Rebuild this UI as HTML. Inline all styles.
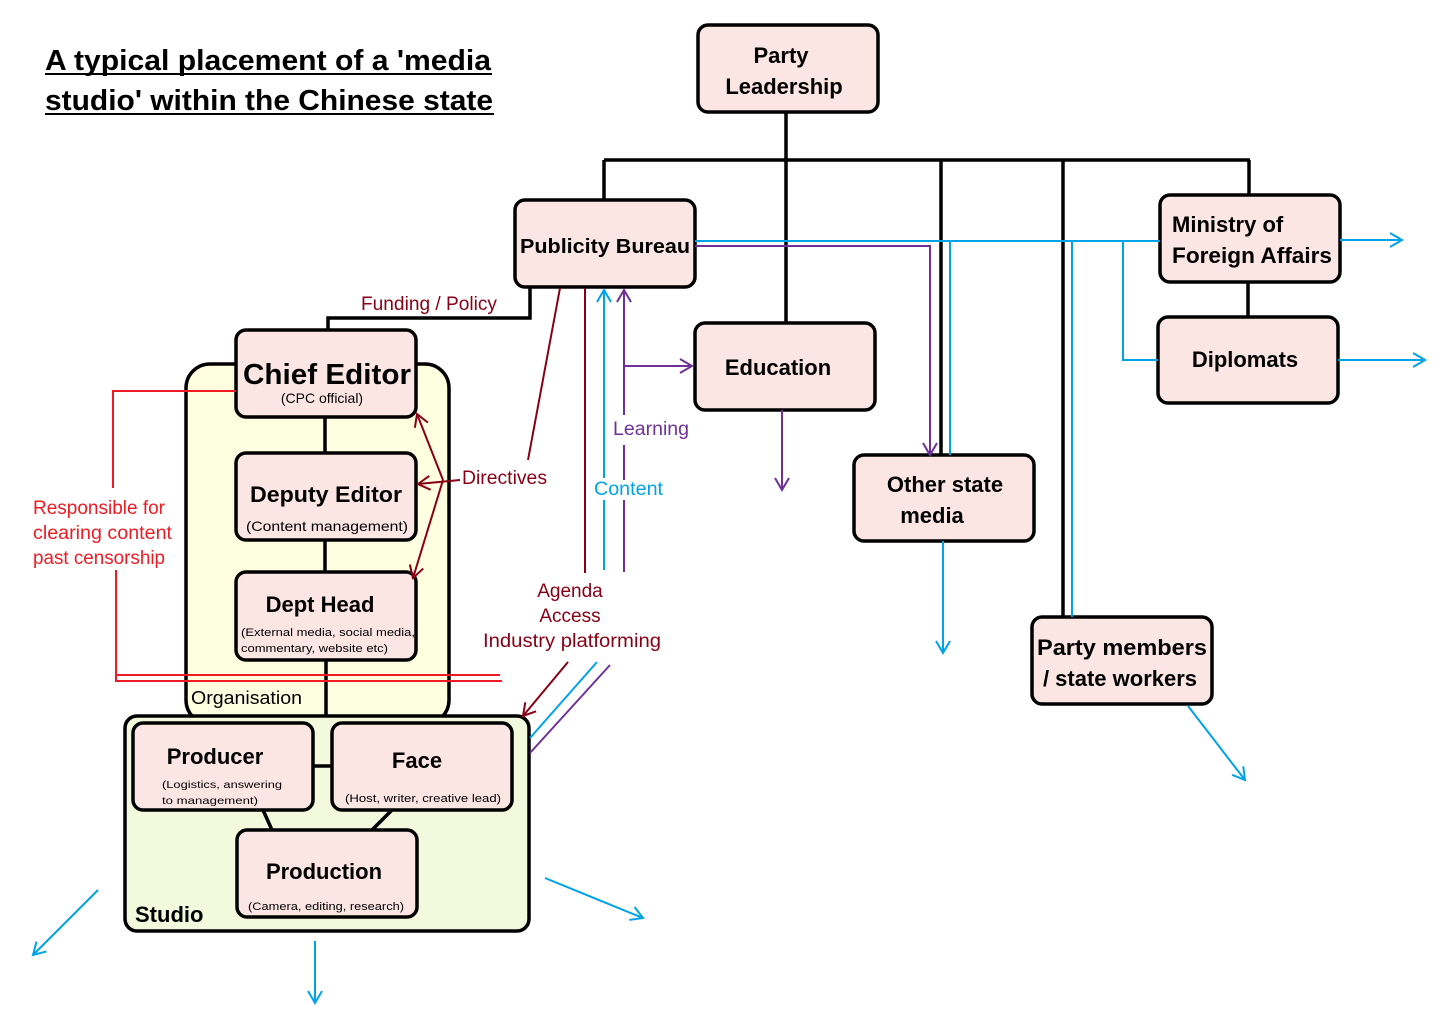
<!DOCTYPE html>
<html><head><meta charset="utf-8"><style>
html,body{margin:0;padding:0;background:#fff}
svg{display:block}
text{font-family:"Liberation Sans",sans-serif}
</style></head><body>
<svg width="1456" height="1018" viewBox="0 0 1456 1018" xmlns="http://www.w3.org/2000/svg">
<defs>
<marker id="ab" markerWidth="20" markerHeight="20" refX="14" refY="10" orient="auto" markerUnits="userSpaceOnUse"><path d="M2,3 L14,10 L2,17" fill="none" stroke="#00a2e8" stroke-width="2"/></marker>
<marker id="ap" markerWidth="20" markerHeight="20" refX="14" refY="10" orient="auto" markerUnits="userSpaceOnUse"><path d="M2,3 L14,10 L2,17" fill="none" stroke="#6f3198" stroke-width="2"/></marker>
<marker id="ar" markerWidth="20" markerHeight="20" refX="14" refY="10" orient="auto" markerUnits="userSpaceOnUse"><path d="M2,3 L14,10 L2,17" fill="none" stroke="#880015" stroke-width="2"/></marker>
</defs>

<text x="45" y="70" font-size="29" font-weight="bold" fill="#000" textLength="446" lengthAdjust="spacingAndGlyphs">A typical placement of a 'media</text>
<line x1="45" y1="74" x2="492" y2="74" stroke="#000" stroke-width="2"/>
<text x="45" y="110" font-size="29" font-weight="bold" fill="#000" textLength="448" lengthAdjust="spacingAndGlyphs">studio' within the Chinese state</text>
<line x1="45" y1="114" x2="494" y2="114" stroke="#000" stroke-width="2"/>

<g stroke="#000" stroke-width="3.5" fill="none">
<line x1="786" y1="112" x2="786" y2="323"/>
<line x1="604" y1="160" x2="1250" y2="160"/>
<line x1="604" y1="160" x2="604" y2="200"/>
<line x1="941" y1="160" x2="941" y2="455"/>
<line x1="1063" y1="160" x2="1063" y2="617"/>
<line x1="1249" y1="160" x2="1249" y2="195"/>
<line x1="1248" y1="282" x2="1248" y2="317"/>
<polyline points="328,330 328,318 530,318 530,287"/>
</g>

<rect x="186" y="364" width="263" height="360" rx="24" fill="#fefee0" stroke="#000" stroke-width="3.5"/>
<rect x="125" y="716" width="404" height="215" rx="12" fill="#f3f9dc" stroke="#000" stroke-width="3.5"/>
<g stroke="#000" stroke-width="3.5">
<line x1="325" y1="417" x2="325" y2="453"/>
<line x1="325" y1="540" x2="325" y2="572"/>
<line x1="326" y1="660" x2="326" y2="716"/>
<line x1="313" y1="766" x2="332" y2="766"/>
<line x1="263" y1="810" x2="272" y2="830"/>
<line x1="392" y1="810" x2="372" y2="830"/>
</g>

<g fill="#fbe6e4" stroke="#000" stroke-width="3.5">
<rect x="698" y="25" width="180" height="87" rx="10"/>
<rect x="515" y="200" width="180" height="87" rx="10"/>
<rect x="1160" y="195" width="180" height="87" rx="10"/>
<rect x="1158" y="317" width="180" height="86" rx="10"/>
<rect x="695" y="323" width="180" height="87" rx="10"/>
<rect x="854" y="455" width="180" height="86" rx="10"/>
<rect x="1032" y="617" width="180" height="87" rx="10"/>
<rect x="236" y="330" width="180" height="87" rx="10"/>
<rect x="236" y="453" width="180" height="87" rx="10"/>
<rect x="236" y="572" width="180" height="88" rx="10"/>
<rect x="133" y="723" width="180" height="87" rx="10"/>
<rect x="332" y="723" width="180" height="87" rx="10"/>
<rect x="237" y="830" width="180" height="87" rx="10"/>
</g>

<g font-size="22" fill="#000" text-anchor="middle" font-weight="bold">
<text x="781" y="63">Party</text>
<text x="784" y="94">Leadership</text>
<text x="605" y="253" font-size="20" textLength="170" lengthAdjust="spacingAndGlyphs">Publicity Bureau</text>
<text x="778" y="375">Education</text>
<text x="945" y="492">Other state</text>
<text x="932" y="523">media</text>
<text x="1245" y="367">Diplomats</text>
<text x="1122" y="655" textLength="170" lengthAdjust="spacingAndGlyphs">Party members</text>
<text x="1120" y="686">/ state workers</text>
<text x="327" y="384" font-size="29" textLength="168" lengthAdjust="spacingAndGlyphs">Chief Editor</text>
<text x="326" y="502" textLength="152" lengthAdjust="spacingAndGlyphs">Deputy Editor</text>
<text x="320" y="612">Dept Head</text>
<text x="215" y="764">Producer</text>
<text x="417" y="768">Face</text>
<text x="324" y="879">Production</text>
</g>
<g font-size="22" fill="#000" font-weight="bold">
<text x="1172" y="232">Ministry of</text>
<text x="1172" y="263" textLength="160" lengthAdjust="spacingAndGlyphs">Foreign Affairs</text>
<text x="135" y="922">Studio</text>
<text x="191" y="704" font-size="18" textLength="111" lengthAdjust="spacingAndGlyphs" font-weight="normal">Organisation</text>
</g>
<g font-size="13" fill="#000" text-anchor="middle">
<text x="322" y="403" font-size="14">(CPC official)</text>
<text x="327" y="531" font-size="14" textLength="162" lengthAdjust="spacingAndGlyphs">(Content management)</text>
<text x="423" y="802" font-size="11" textLength="156" lengthAdjust="spacingAndGlyphs">(Host, writer, creative lead)</text>
<text x="326" y="910" font-size="11" textLength="156" lengthAdjust="spacingAndGlyphs">(Camera, editing, research)</text>
</g>
<g font-size="11" fill="#000">
<text x="241" y="636" textLength="174" lengthAdjust="spacingAndGlyphs">(External media, social media,</text>
<text x="241" y="652" textLength="147" lengthAdjust="spacingAndGlyphs">commentary, website etc)</text>
<text x="162" y="788" font-size="10.5" textLength="120" lengthAdjust="spacingAndGlyphs">(Logistics, answering</text>
<text x="162" y="804" font-size="10.5" textLength="96" lengthAdjust="spacingAndGlyphs">to management)</text>
</g>

<g stroke="#ed1c24" stroke-width="2" fill="none">
<polyline points="236,391 113,391 113,488"/>
<polyline points="116,570 116,681 502,681"/>
<line x1="116" y1="675" x2="500" y2="675"/>
</g>
<g font-size="19" fill="#ed1c24">
<text x="33" y="514" textLength="132" lengthAdjust="spacingAndGlyphs">Responsible for</text>
<text x="33" y="539" textLength="139" lengthAdjust="spacingAndGlyphs">clearing content</text>
<text x="33" y="564" textLength="132" lengthAdjust="spacingAndGlyphs">past censorship</text>
</g>

<g stroke="#880015" stroke-width="2" fill="none">
<line x1="443" y1="480" x2="417" y2="414" marker-end="url(#ar)"/>
<line x1="460" y1="480" x2="418" y2="484" marker-end="url(#ar)"/>
<line x1="443" y1="480" x2="413" y2="578" marker-end="url(#ar)"/>
<line x1="560" y1="288" x2="528" y2="460"/>
<line x1="585" y1="288" x2="585" y2="573"/>
<line x1="568" y1="662" x2="523" y2="716" marker-end="url(#ar)"/>
</g>
<g font-size="19" fill="#880015">
<text x="361" y="310" textLength="136" lengthAdjust="spacingAndGlyphs">Funding / Policy</text>
<text x="462" y="484" textLength="85" lengthAdjust="spacingAndGlyphs">Directives</text>
<text x="570" y="597" text-anchor="middle">Agenda</text>
<text x="570" y="622" text-anchor="middle">Access</text>
<text x="572" y="647" text-anchor="middle" textLength="178" lengthAdjust="spacingAndGlyphs">Industry platforming</text>
</g>

<g stroke="#00a2e8" stroke-width="2" fill="none">
<line x1="604" y1="570" x2="604" y2="500"/>
<line x1="604" y1="478" x2="604" y2="290" marker-end="url(#ab)"/>
<line x1="695" y1="241" x2="1160" y2="241"/>
<line x1="950" y1="241" x2="950" y2="455"/>
<line x1="1072" y1="241" x2="1072" y2="617"/>
<polyline points="1123,241 1123,360 1158,360"/>
<line x1="1340" y1="240" x2="1402" y2="240" marker-end="url(#ab)"/>
<line x1="1338" y1="360" x2="1425" y2="360" marker-end="url(#ab)"/>
<line x1="943" y1="541" x2="943" y2="653" marker-end="url(#ab)"/>
<line x1="1188" y1="706" x2="1245" y2="780" marker-end="url(#ab)"/>
<line x1="545" y1="878" x2="643" y2="918" marker-end="url(#ab)"/>
<line x1="98" y1="890" x2="33" y2="955" marker-end="url(#ab)"/>
<line x1="315" y1="941" x2="315" y2="1003" marker-end="url(#ab)"/>
<line x1="597" y1="662" x2="530" y2="738"/>
</g>
<text x="594" y="495" font-size="19" fill="#00a2e8" textLength="69" lengthAdjust="spacingAndGlyphs">Content</text>

<g stroke="#6f3198" stroke-width="2" fill="none">
<line x1="624" y1="572" x2="624" y2="500"/>
<line x1="624" y1="480" x2="624" y2="445"/>
<line x1="624" y1="415" x2="624" y2="290" marker-end="url(#ap)"/>
<line x1="624" y1="366" x2="692" y2="366" marker-end="url(#ap)"/>
<polyline points="695,246 930,246 930,455" marker-end="url(#ap)"/>
<line x1="782" y1="410" x2="782" y2="490" marker-end="url(#ap)"/>
<line x1="610" y1="665" x2="530" y2="753"/>
</g>
<text x="613" y="435" font-size="19" fill="#6f3198" textLength="76" lengthAdjust="spacingAndGlyphs">Learning</text>
</svg>
</body></html>
